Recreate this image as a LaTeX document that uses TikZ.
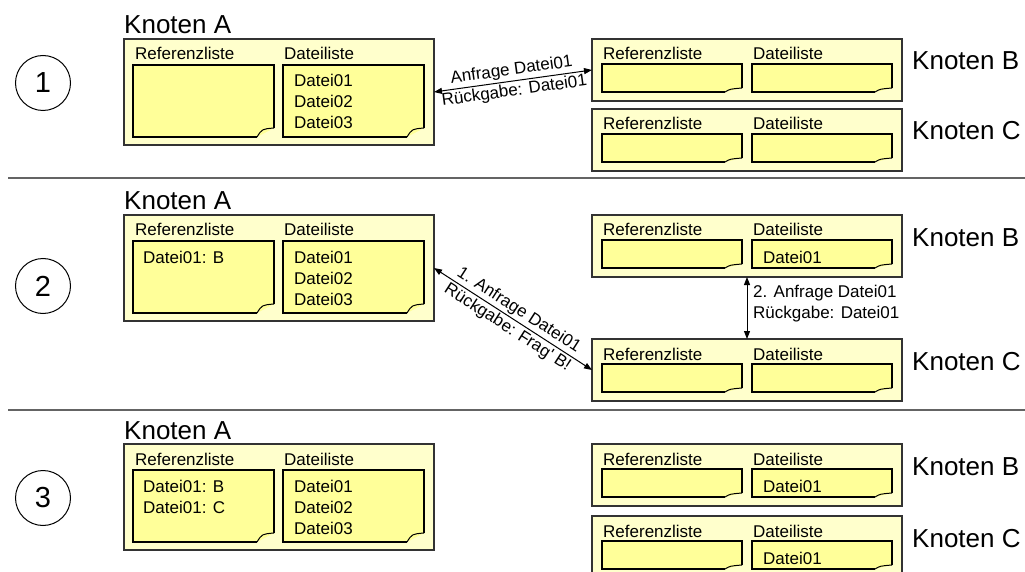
\documentclass[tikz,border=0pt]{standalone}
\usepackage{fontspec}
\setmainfont{Liberation Sans}
\usetikzlibrary{arrows.meta}
\definecolor{outerfill}{RGB}{255,255,204}
\definecolor{innerfill}{RGB}{255,255,153}
\definecolor{boxline}{RGB}{51,51,51}
\definecolor{sepline}{RGB}{100,100,100}
\tikzset{
  outerbox/.style={draw=boxline, fill=outerfill, line width=1.5pt, inner sep=0pt, outer sep=0pt},
  innerline/.style={draw=black, line width=1.4pt, line join=miter},
  lbl/.style={font=\fontsize{17}{21}\selectfont, inner sep=0pt},
  big/.style={font=\fontsize{26}{30}\selectfont, inner sep=0pt},
  numcircle/.style={circle, draw, line width=1pt, minimum size=55pt, inner sep=0pt, font=\fontsize{29}{30}\selectfont},
  conn/.style={line width=1pt, {Triangle[length=8pt,width=6pt]}-{Triangle[length=8pt,width=6pt]}},
  conntext/.style={font=\fontsize{17}{21}\selectfont, inner sep=2pt, sloped},
  sepstyle/.style={draw=sepline, line width=2pt},
}
% sticky note: x1,y1,x2,y2,foldwidth,foldheight
\newcommand\stickynote[6]{%
  \fill[innerfill] (#1,#2) -- (#3,#2) -- (#3,{#4-#6}) -- ({#3-#5},#4) -- (#1,#4) -- cycle;
  \draw[innerline] ({#3-#5},#4) -- (#1,#4) -- (#1,#2) -- (#3,#2) -- (#3,{#4-#6});
  \draw[black, line width=1pt] ({#3-#5},#4) .. controls ({#3-#5+5},{#4-#6+1}) .. (#3,{#4-#6});
}
% Knoten A: name, X, Y
\newcommand\knotenA[3]{%
  \node[outerbox, minimum width=310pt, minimum height=106pt] (#1) at ({#2+155},{#3+53}) {};
  \node[big, anchor=base west] (#1name) at (#2,{#3-5}) {Knoten A};
  \node[lbl, anchor=base west] (#1rl) at ({#2+11},{#3+21}) {Referenzliste};
  \node[lbl, anchor=base west] (#1dl) at ({#2+160},{#3+21}) {Dateiliste};
  \stickynote{#2+9}{#3+26}{#2+150}{#3+98}{17}{9}
  \stickynote{#2+159}{#3+26}{#2+300}{#3+98}{17}{9}
  \foreach \t [count=\i from 0] in {Datei01,Datei02,Datei03}
    {\node[lbl, anchor=base west] (#1f\i) at ({#2+170},{#3+48+21*\i}) {\t};}
}
% Knoten B/C: name, X, Y, label
\newcommand\knotenBC[4]{%
  \node[outerbox, minimum width=310pt, minimum height=62pt] (#1) at ({#2+155},{#3+31}) {};
  \node[big, anchor=base west] (#1name) at (912,{#3+31}) {#4};
  \node[lbl, anchor=base west] (#1rl) at ({#2+11},{#3+21}) {Referenzliste};
  \node[lbl, anchor=base west] (#1dl) at ({#2+161},{#3+21}) {Dateiliste};
  \stickynote{#2+10}{#3+25}{#2+150}{#3+53}{17}{4}
  \stickynote{#2+160}{#3+25}{#2+300}{#3+53}{17}{4}
}
\begin{document}
\begin{tikzpicture}[x=1pt, y=-1pt]
\useasboundingbox (0,0) rectangle (1025,572);
\clip (0,0) rectangle (1025,572);

% separators
\coordinate (s1a) at (8,178); \coordinate (s1b) at (1025,178);
\coordinate (s2a) at (8,410); \coordinate (s2b) at (1025,410);
\draw[sepstyle] (s1a) -- (s1b);
\draw[sepstyle] (s2a) -- (s2b);

% step numbers
\node[numcircle] (c1) at (43,83) {1};
\node[numcircle] (c2) at (43,286) {2};
\node[numcircle] (c3) at (43,498) {3};

% ---- Panel 1
\knotenA{A1}{124}{39}
\knotenBC{B1}{592}{39}{Knoten B}
\knotenBC{C1}{592}{109}{Knoten C}
\draw[conn] (A1.east) -- node[conntext, above] (l1a) {Anfrage Datei01}
                         node[conntext, below] (l1b) {Rückgabe: Datei01} (B1.west);

% ---- Panel 2
\knotenA{A2}{124}{215}
\node[lbl, anchor=base west] (A2r0) at (143,263) {Datei01: B};
\knotenBC{B2}{592}{215}{Knoten B}
\node[lbl, anchor=base west] (B2f0) at (763,263) {Datei01};
\knotenBC{C2}{592}{339}{Knoten C}
\draw[conn] (A2.east) -- node[conntext, above] (l2a) {1. Anfrage Datei01}
                         node[conntext, below] (l2b) {Rückgabe: Frag\textquotesingle\ B!} (C2.west);
\draw[conn] ([xshift=155pt]B2.south west) -- ([xshift=155pt]C2.north west);
\node[lbl, anchor=west, align=left] (l2c) at (753,304) {2. Anfrage Datei01\\Rückgabe: Datei01};

% ---- Panel 3
\knotenA{A3}{124}{444}
\node[lbl, anchor=base west] (A3r0) at (143,492) {Datei01: B};
\node[lbl, anchor=base west] (A3r1) at (143,513) {Datei01: C};
\knotenBC{B3}{592}{444}{Knoten B}
\node[lbl, anchor=base west] (B3f0) at (763,492) {Datei01};
\knotenBC{C3}{592}{516}{Knoten C}
\node[lbl, anchor=base west] (C3f0) at (763,564) {Datei01};
\end{tikzpicture}
\end{document}
